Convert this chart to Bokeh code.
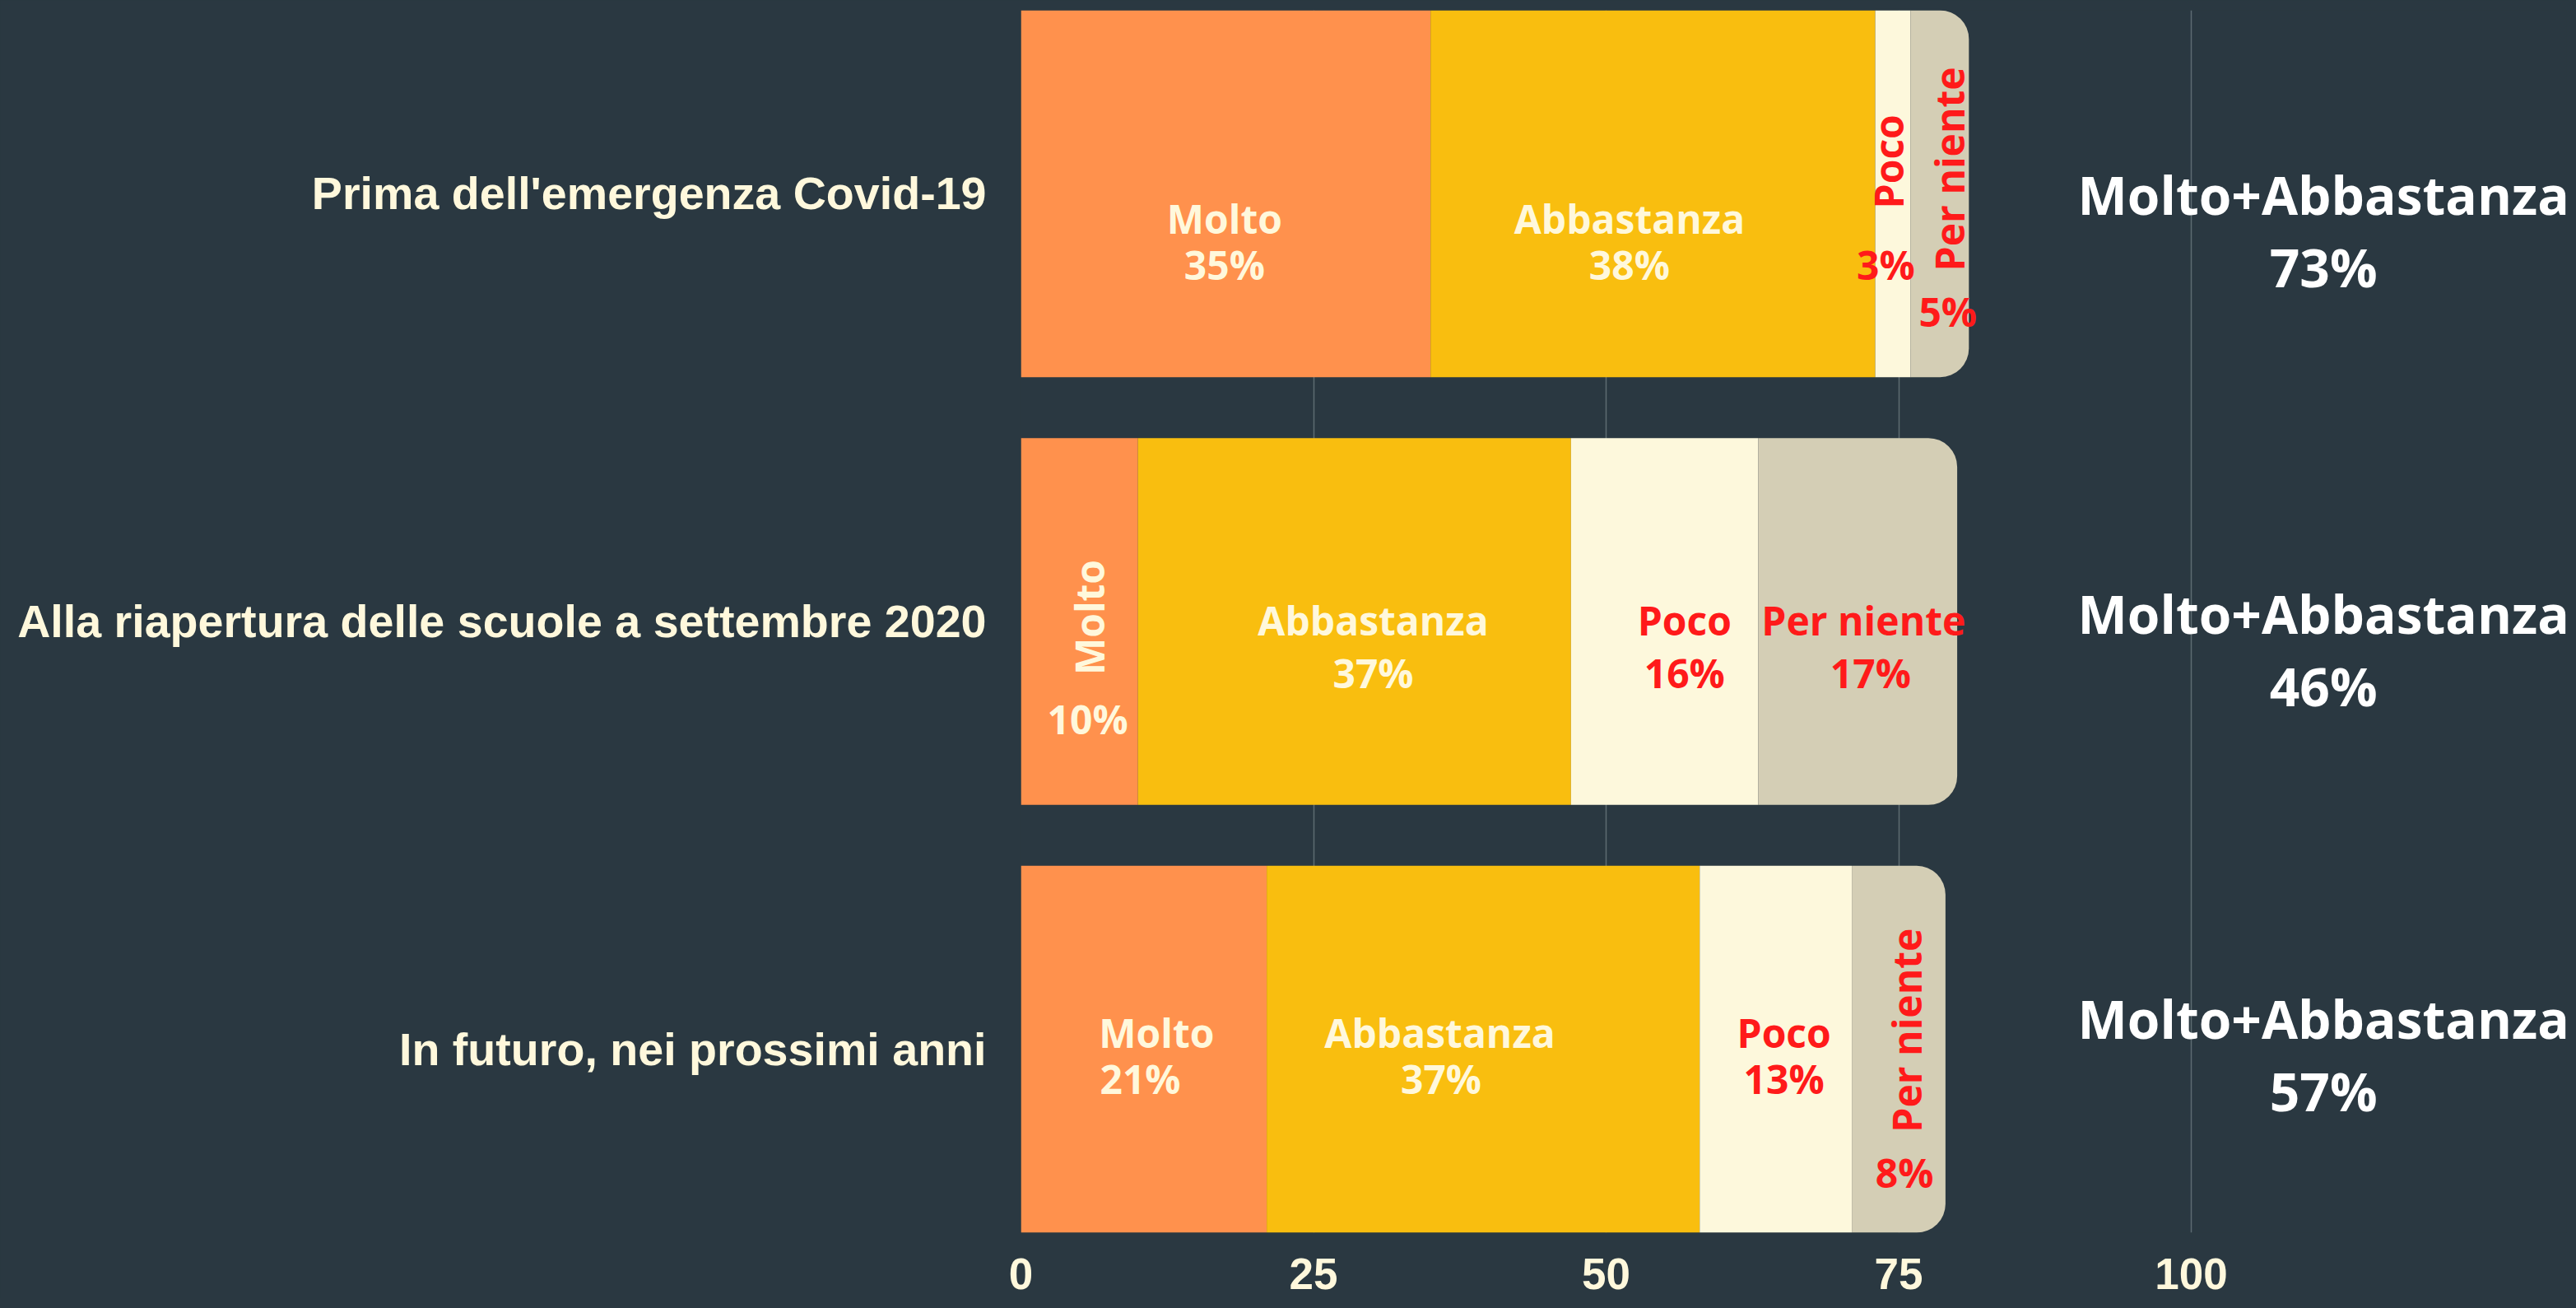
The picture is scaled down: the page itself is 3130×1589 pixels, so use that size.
import numpy as np
from bokeh.plotting import figure
from bokeh.models import ColumnDataSource, Range1d, FixedTicker
from bokeh.core.properties import value
from bokeh.embed import file_html
from bokeh.resources import INLINE

# ---------------- data ----------------
categories = ["Prima dell'emergenza Covid-19",
              "Alla riapertura delle scuole a settembre 2020",
              "In futuro, nei prossimi anni"]
series = ["Molto", "Abbastanza", "Poco", "Per niente"]
molto = [35, 10, 21]
abbastanza = [38, 37, 37]
poco = [3, 16, 13]
per_niente = [5, 17, 8]
totals = [73, 46, 57]          # Molto+Abbastanza as published
total_label = "Molto+Abbastanza"
x_ticks = [0, 25, 50, 75, 100]

# ---------------- style ----------------
BG = "#2a3841"
SEG_COLORS = ["#ff914d", "#f9be0f", "#fdf8dc", "#d4ceb5"]
CREAM = "#fff8dc"
RED = "#ff1a1a"
TXT_COLORS = [CREAM, CREAM, RED, RED]
GRID = "#5e6b72"

FRAME_W, FRAME_H = 1878, 1485
PX_PER_UNIT_X = 14.22
X_END = FRAME_W / PX_PER_UNIT_X
BAR_H = 0.8577
Y_TOP, Y_BOT = -BAR_H / 2, 2 + BAR_H / 2
PX_PER_ROW = FRAME_H / (Y_BOT - Y_TOP)

# label placement tweaks (x in data units from segment centre, y in px from row centre)
rotated = [[False, False, True, True],
           [True, False, False, False],
           [False, False, False, True]]
name_dx = [[-0.1, -2.0, -0.4, 0.8], [0.84, 1.6, 1.7, 0.5], [1.1, -3.7, 0.7, 0.7]]
val_dx = [[-0.1, -2.0, -0.6, 0.7], [0.7, 1.6, 1.7, 1.1], [-0.3, -3.6, 0.7, 0.5]]
name_dy = [[30, 30, -39, -30], [-5, -2, -2, -2], [-20, -20, -20, -23]]
val_dy = [[86, 86, 86, 143], [118, 62, 62, 62], [36, 36, 36, 150]]
tot_x = 111.3
tot_dy_title = [1, -10, -37]
tot_dy_val = [89, 78, 51]

rows = list(range(len(categories)))

p = figure(output_backend="svg", toolbar_location=None,
           frame_width=FRAME_W, frame_height=FRAME_H,
           x_range=Range1d(0, X_END), y_range=Range1d(Y_BOT, Y_TOP),
           min_border_left=1240, min_border_right=4, min_border_top=12,
           min_border_bottom=80,
           background_fill_color=BG, border_fill_color=BG,
           outline_line_color=None)

source = ColumnDataSource(dict(y=rows, Molto=molto, Abbastanza=abbastanza,
                               Poco=poco, **{"Per niente": per_niente}))
rs = p.hbar_stack(series, y="y", height=BAR_H, color=SEG_COLORS,
                  line_color=None, source=source)
try:
    rs[-1].glyph.border_radius = (0, 35, 35, 0)
except Exception:
    pass

# segment labels
data_vals = [molto, abbastanza, poco, per_niente]
for si, s in enumerate(series):
    nx, ny, na, vx, vy, vt = [], [], [], [], [], []
    for r in rows:
        left = sum(data_vals[k][r] for k in range(si))
        c = left + data_vals[si][r] / 2
        nx.append(c + name_dx[r][si])
        ny.append(r + name_dy[r][si] / PX_PER_ROW)
        na.append(np.pi / 2 if rotated[r][si] else 0.0)
        vx.append(c + val_dx[r][si])
        vy.append(r + val_dy[r][si] / PX_PER_ROW)
        vt.append(f"{data_vals[si][r]}%")
    p.text(x=nx, y=ny, text=[s] * len(rows), angle=na,
           text_font=value("Open Sans"), text_font_style="bold",
           text_font_size="48px", text_color=TXT_COLORS[si],
           text_align="center", text_baseline="middle")
    p.text(x=vx, y=vy, text=vt,
           text_font=value("Open Sans"), text_font_style="bold",
           text_font_size="48px", text_color=TXT_COLORS[si],
           text_align="center", text_baseline="middle")

# totals on the right
p.text(x=[tot_x] * len(rows), y=[r + tot_dy_title[r] / PX_PER_ROW for r in rows],
       text=[total_label] * len(rows), text_font=value("Open Sans"),
       text_font_style="bold", text_font_size="64px", text_color="#ffffff",
       text_align="center", text_baseline="middle")
p.text(x=[tot_x] * len(rows), y=[r + tot_dy_val[r] / PX_PER_ROW for r in rows],
       text=[f"{t}%" for t in totals], text_font=value("Open Sans"),
       text_font_style="bold", text_font_size="64px", text_color="#ffffff",
       text_align="center", text_baseline="middle")

# axes / grid
p.xaxis.ticker = FixedTicker(ticks=x_ticks)
p.xaxis.axis_line_color = None
p.xaxis.major_tick_line_color = None
p.xaxis.minor_tick_line_color = None
p.xaxis.major_tick_out = 0
p.xaxis.major_tick_in = 0
p.xaxis.major_label_standoff = 31
p.xaxis.major_label_text_font = "Liberation Sans"
p.xaxis.major_label_text_font_style = "bold"
p.xaxis.major_label_text_font_size = "53px"
p.xaxis.major_label_text_color = CREAM

p.yaxis.ticker = FixedTicker(ticks=rows)
p.yaxis.major_label_overrides = {r: categories[r] for r in rows}
p.yaxis.axis_line_color = None
p.yaxis.major_tick_line_color = None
p.yaxis.minor_tick_line_color = None
p.yaxis.major_tick_out = 0
p.yaxis.major_tick_in = 0
p.yaxis.major_label_standoff = 42
p.yaxis.major_label_text_font = "Liberation Sans"
p.yaxis.major_label_text_font_style = "bold"
p.yaxis.major_label_text_font_size = "55.6px"
p.yaxis.major_label_text_color = CREAM

p.xgrid.ticker = FixedTicker(ticks=x_ticks)
p.xgrid.grid_line_color = GRID
p.xgrid.grid_line_width = 1.5
p.ygrid.grid_line_color = None

html = file_html(p, INLINE)
html = html.replace("<head>", "<head><style>html,body{background:%s;overflow:hidden;}</style>" % BG, 1)
open("out.html", "w").write(html)
